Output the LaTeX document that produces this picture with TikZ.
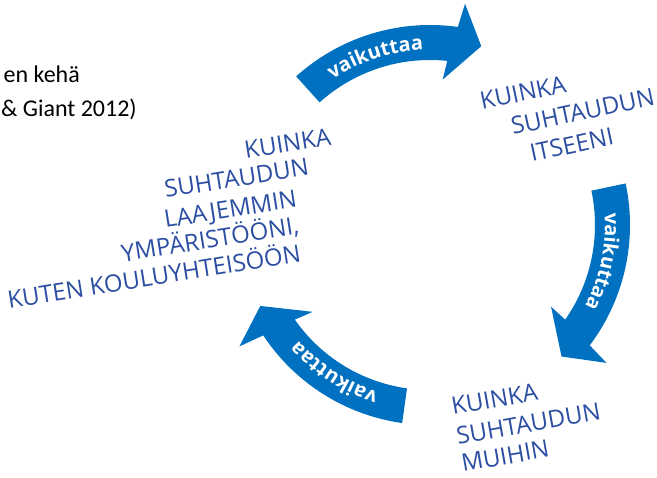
\documentclass[tikz,border=0pt]{standalone}
\usepackage{fontspec}
\setmainfont{Open Sans}
\newfontfamily\calfont{Carlito}
\usetikzlibrary{decorations.text}
\definecolor{arrowblue}{RGB}{0,112,192}
\definecolor{textblue}{RGB}{44,78,162}
\newcommand\vaistyle{\bfseries\fontsize{20}{20}\selectfont}
\begin{document}
\begin{tikzpicture}[x=1pt,y=1pt,
  bt/.style={text=textblue, font=\fontsize{24}{24}\selectfont, inner sep=0pt},
  btw/.style={bt, anchor=base west, rotate=#1},
  bte/.style={bt, anchor=base east, rotate=#1},
  cite/.style={anchor=base east, inner sep=0pt, font=\calfont\fontsize{24}{24}\selectfont},
  arr/.style={fill=arrowblue},
  lbl/.style={decorate, decoration={text along path, text={|\vaistyle|vaikuttaa}, text align=center, text color=white}}
]
\useasboundingbox (0,0) rectangle (657,-478);

% citation text (cut at left edge)
\node[cite] (c1) at (80,-83) {en kehä};
\node[cite] (c2) at (137,-117) {\& Giant 2012)};

\begin{scope}[shift={(430,-225)}]
  % top arrow
  \fill[arr] (132:165) arc[start angle=132,end angle=84,radius=165] -- (85:146) -- (74:186) -- (81:224) -- (82:200) arc[start angle=82,end angle=132,radius=200] -- cycle;
  % right arrow
  \fill[arr] (12:165) arc[start angle=12,end angle=-35,radius=165] -- (-34:146) -- (-45:186) -- (-38:224) -- (-37:200) arc[start angle=-37,end angle=12,radius=200] -- cycle;
  % left arrow
  \fill[arr] (262:165) arc[start angle=262,end angle=215,radius=165] -- (216.5:146) -- (205.5:188) -- (212.5:226) -- (213.5:200) arc[start angle=213.5,end angle=262,radius=200] -- cycle;
  % labels
  \path[lbl] (130:175) arc[start angle=130,end angle=86,radius=175];
  \path[lbl] (10:175) arc[start angle=10,end angle=-34,radius=175];
  \path[lbl] (259:175) arc[start angle=259,end angle=215,radius=175];
\end{scope}

% right block
\node[btw=12] (r1) at (482,-110) {KUINKA};
\node[btw=12] (r2) at (513,-135) {SUHTAUDUN};
\node[btw=12] (r3) at (532,-162) {ITSEENI};

% bottom block
\node[btw=10] (b1) at (453,-415) {KUINKA};
\node[btw=10] (b2) at (458,-445) {SUHTAUDUN};
\node[btw=10] (b3) at (463,-472) {MUIHIN};

% left block
\node[bte=9] (l1) at (332,-145) {KUINKA};
\node[bte=9] (l2) at (310,-175) {SUHTAUDUN};
\node[bte=9] (l3) at (298,-207) {LAAJEMMIN};
\node[bte=9] (l4) at (300,-234) {YMPÄRISTÖÖNI,};
\node[bte=9] (l5) at (302,-262) {KUTEN KOULUYHTEISÖÖN};
\end{tikzpicture}
\end{document}
